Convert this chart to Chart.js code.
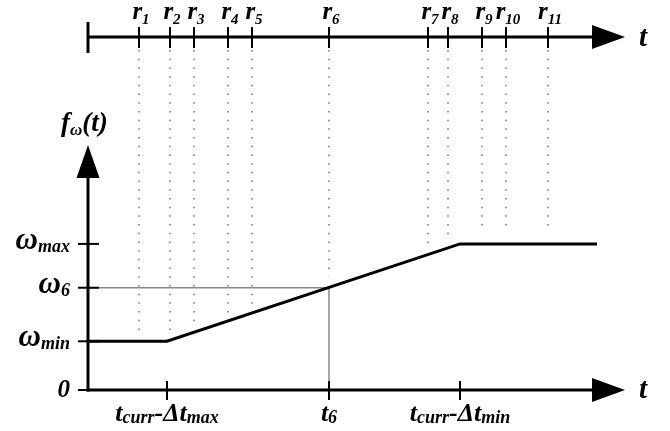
<!DOCTYPE html>
<html>
<head>
<meta charset="utf-8">
<script src="https://cdn.jsdelivr.net/npm/chart.js@4.4.0/dist/chart.umd.min.js"></script>
<style>
html, body { margin: 0; padding: 0; background: #fff; }
</style>
</head>
<body>
<canvas id="weightChart" width="670" height="431"></canvas>
<script>
// values (x = time units, y = weight units)
const rNames = ['1', '2', '3', '4', '5', '6', '7', '8', '9', '10', '11'];
const rTimes = [5.1, 8.2, 10.6, 14.0, 16.4, 24.1, 34.0, 36.0, 39.4, 41.8, 46.0];
const rDotEnds = [1.13, 1.18, 1.32, 1.51, 1.67, 2.33, 2.87, 3.05, 3.24, 3.24, 3.24];

const curveTimes = [0, 7.9, 37.2, 50.9];
const curveWeights = [1, 1, 3, 3];

const t6 = 24.1;
const w6 = 2.1;

const xTickTimes = [7.9, 24.1, 37.2];
const xTickLabels = [
    [['t', 'curr'], ['-Δt', 'max']],
    [['t', '6']],
    [['t', 'curr'], ['-Δt', 'min']]
];
const yTickValues = [0, 1, 2.1, 3];
const yTickLabels = [
    [['0', '']],
    [['ω', 'min']],
    [['ω', '6']],
    [['ω', 'max']]
];

// where things sit in data units
const TIMELINE_Y = 7.25;
const DOT_TOP = 6.98;
const X_AXIS_TIP = 53.7;
const Y_AXIS_TIP = 5.03;

function font(size) {
    return 'bold italic ' + size + 'px "Liberation Serif", "DejaVu Serif", serif';
}

// draws text like [['ω','max']] with subscripts
function drawRich(ctx, segs, x, y, align, ms, ss, drop) {
    let w = 0;
    segs.forEach(s => {
        ctx.font = font(ms); w += ctx.measureText(s[0]).width;
        ctx.font = font(ss); w += ctx.measureText(s[1]).width;
    });
    let cx = x;
    if (align === 'center') cx = x - w / 2;
    if (align === 'right') cx = x - w;
    ctx.textAlign = 'left';
    ctx.textBaseline = 'alphabetic';
    ctx.fillStyle = '#000';
    segs.forEach(s => {
        ctx.font = font(ms);
        ctx.fillText(s[0], cx, y);
        cx += ctx.measureText(s[0]).width;
        ctx.font = font(ss);
        ctx.fillText(s[1], cx, y + drop);
        cx += ctx.measureText(s[1]).width;
    });
}

function line(ctx, x1, y1, x2, y2, w) {
    ctx.lineWidth = w;
    ctx.beginPath();
    ctx.moveTo(x1, y1);
    ctx.lineTo(x2, y2);
    ctx.stroke();
}

function arrowRight(ctx, tipX, y, len, half) {
    ctx.beginPath();
    ctx.moveTo(tipX, y);
    ctx.lineTo(tipX - len, y - half);
    ctx.lineTo(tipX - len, y + half);
    ctx.closePath();
    ctx.fill();
}

const axesPlugin = {
    id: 'axesPlugin',
    afterDatasetsDraw(chart) {
        const ctx = chart.ctx;
        const xs = chart.scales.x, ys = chart.scales.y;
        const x0 = xs.getPixelForValue(0);
        const y0 = ys.getPixelForValue(0);
        const xTip = xs.getPixelForValue(X_AXIS_TIP);
        const yTip = ys.getPixelForValue(Y_AXIS_TIP);
        const yT = ys.getPixelForValue(TIMELINE_Y);

        ctx.save();
        ctx.strokeStyle = '#000';
        ctx.fillStyle = '#000';
        ctx.lineCap = 'butt';

        // top timeline
        line(ctx, x0, yT, xTip - 30, yT, 3);
        line(ctx, x0, yT - 15, x0, yT + 16, 3);
        arrowRight(ctx, xTip, yT, 33, 12);
        rTimes.forEach((r, i) => {
            const px = xs.getPixelForValue(r);
            line(ctx, px, yT - 10, px, yT + 11, 2);
            drawRich(ctx, [['r', rNames[i]]], px + 2, yT - 18, 'center', 25, 15, 5);
        });
        drawRich(ctx, [['t', '']], 639, yT + 9, 'left', 29, 12, 0);

        // y axis
        line(ctx, x0, y0 + 1.5, x0, yTip + 30, 3);
        ctx.beginPath();
        ctx.moveTo(x0, yTip);
        ctx.lineTo(x0 - 11.5, yTip + 33);
        ctx.lineTo(x0 + 11.5, yTip + 33);
        ctx.closePath();
        ctx.fill();
        yTickValues.forEach((v, i) => {
            const py = ys.getPixelForValue(v);
            line(ctx, x0 - 10, py, x0 + 11, py, 2);
            const ms = v === 0 ? 25 : 31;
            drawRich(ctx, yTickLabels[i], 70, py + (v === 0 ? 7 : 5), 'right', ms, 18, 3);
        });
        drawRich(ctx, [['f', 'ω'], ['(t)', '']], 61, 131, 'left', 27, 17, 4);

        // x axis
        line(ctx, x0 - 1.5, y0, xTip - 30, y0, 3);
        arrowRight(ctx, xTip, y0, 33, 12);
        xTickTimes.forEach((t, i) => {
            const px = xs.getPixelForValue(t);
            line(ctx, px, y0 - 9, px, y0 + 10, 2);
            drawRich(ctx, xTickLabels[i], px, 421, 'center', 26, 18, 2);
        });
        drawRich(ctx, [['t', '']], 639, y0 + 8, 'left', 29, 12, 0);

        ctx.restore();
    }
};

const datasets = [];
datasets.push({
    data: curveTimes.map((t, i) => ({ x: t, y: curveWeights[i] })),
    borderColor: '#000',
    borderWidth: 3,
    pointRadius: 0,
    tension: 0
});
datasets.push({
    data: [{ x: 0, y: w6 }, { x: t6, y: w6 }, { x: t6, y: 0 }],
    borderColor: '#8a8a8a',
    borderWidth: 1.5,
    pointRadius: 0,
    tension: 0
});
rTimes.forEach((r, i) => {
    datasets.push({
        data: [{ x: r, y: DOT_TOP }, { x: r, y: rDotEnds[i] }],
        borderColor: '#7a7a7a',
        borderWidth: 1.6,
        borderDash: [1.5, 7.2],
        pointRadius: 0
    });
});

new Chart(document.getElementById('weightChart').getContext('2d'), {
    type: 'scatter',
    data: { datasets: datasets },
    options: {
        responsive: false,
        animation: false,
        showLine: true,
        layout: { padding: 0 },
        plugins: { legend: { display: false }, tooltip: { enabled: false } },
        scales: {
            x: { type: 'linear', display: false, min: -8.8, max: 58.2 },
            y: { type: 'linear', display: false, min: -0.842, max: 8.008 }
        }
    },
    plugins: [axesPlugin]
});
</script>
</body>
</html>
